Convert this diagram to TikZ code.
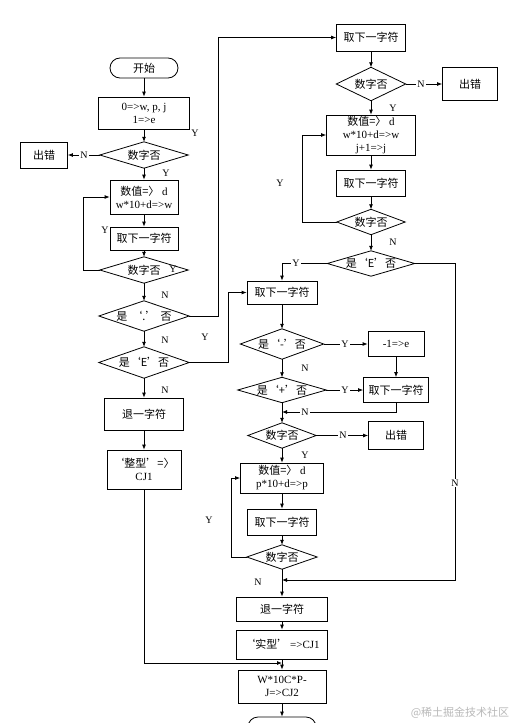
\documentclass[tikz,border=0pt]{standalone}
\usepackage{fontspec}
\setmainfont{Liberation Serif}
\newfontfamily\cjk{Noto Sans CJK SC}
\usetikzlibrary{arrows.meta}
\tikzset{
  box/.style={draw, line width=0.8pt, rectangle, inner sep=0pt, align=center, font=\fontsize{11}{13}\selectfont},
  term/.style={box, rounded corners=10pt},
  dnode/.style={inner sep=0pt, align=center, font=\fontsize{11}{13}\selectfont},
  line/.style={line width=0.8pt},
  arr/.style={line width=0.8pt, -{Latex[length=5pt,width=4pt]}},
  lab/.style={font=\fontsize{10}{12}\selectfont, inner sep=1pt},
  labw/.style={lab, fill=white},
}
\newcommand\dmd[5]{%
  \node[dnode, minimum width=#3, minimum height=#4] (#1) at (#2) {#5};
  \draw[line] (#1.west)--(#1.north)--(#1.east)--(#1.south)--cycle;}
\begin{document}
\begin{tikzpicture}[x=1pt,y=-1pt]
\fill[white] (0,0) rectangle (512,723);
\useasboundingbox (0,0) rectangle (512,723);
% ---------- left column ----------
\node[term, minimum width=68pt, minimum height=20pt] (start) at (144,68) {\cjk 开始};
\node[box, minimum width=91pt, minimum height=32pt] (b1) at (144,113) {0=>w, p, j\\1=>e};
\dmd{d1}{144,155}{88pt}{26pt}{\cjk 数字否}
\node[box, minimum width=47pt, minimum height=26pt] (e1) at (44,155) {\cjk 出错};
\node[box, minimum width=68pt, minimum height=34pt] (b2) at (144,197) {{\cjk 数值=〉} d\\w*10+d=>w};
\node[box, minimum width=68pt, minimum height=23pt] (b3) at (144,238.5) {\cjk 取下一字符};
\dmd{d2}{144,270}{88pt}{26pt}{\cjk 数字否}
\dmd{d3}{144,316}{90pt}{30pt}{\cjk 是\hspace{4pt}‘.’\hspace{4pt}否}
\dmd{d4}{144,362.5}{90pt}{31pt}{\cjk 是‘E’否}
\node[box, minimum width=79pt, minimum height=32pt] (b4) at (144,414) {\cjk 退一字符};
\node[box, minimum width=74pt, minimum height=39pt] (b5) at (144,469.5) {{\cjk ‘整型’=〉}\\CJ1};
% ---------- right upper ----------
\node[box, minimum width=69pt, minimum height=27pt] (rb1) at (371,37.5) {\cjk 取下一字符};
\dmd{rd1}{371,84}{69pt}{33pt}{\cjk 数字否}
\node[box, minimum width=55pt, minimum height=33pt] (e2) at (470,84) {\cjk 出错};
\node[box, minimum width=89pt, minimum height=40pt] (rb2) at (371,135) {{\cjk 数值=〉} d\\w*10+d=>w\\j+1=>j};
\node[box, minimum width=69pt, minimum height=26pt] (rb3) at (371,183) {\cjk 取下一字符};
\dmd{rd2}{371,222}{68pt}{25pt}{\cjk 数字否}
\dmd{rd3}{371,263.5}{87pt}{25pt}{\cjk 是‘E’否}
% ---------- right lower ----------
\node[box, minimum width=70pt, minimum height=23pt] (rb5) at (282,292.5) {\cjk 取下一字符};
\dmd{rd4}{282,344}{83pt}{30pt}{\cjk 是‘-’否}
\node[box, minimum width=56pt, minimum height=25pt] (rb6) at (396,344) {-1=>e};
\dmd{rd5}{282,390}{88pt}{25pt}{\cjk 是‘+’否}
\node[box, minimum width=65pt, minimum height=25pt] (rb7) at (396,390) {\cjk 取下一字符};
\dmd{rd6}{282,435.5}{68pt}{25pt}{\cjk 数字否}
\node[box, minimum width=55pt, minimum height=28pt] (e3) at (396,435.5) {\cjk 出错};
\node[box, minimum width=83pt, minimum height=30pt] (rb8) at (282,478) {{\cjk 数值=〉} d\\p*10+d=>p};
\node[box, minimum width=69pt, minimum height=26pt] (rb9) at (282,522) {\cjk 取下一字符};
\dmd{rd7}{282,557}{70pt}{24pt}{\cjk 数字否}
\node[box, minimum width=91pt, minimum height=24pt] (rb10) at (282,609) {\cjk 退一字符};
\node[box, minimum width=91pt, minimum height=29pt] (rb11) at (282,644.5) {{\cjk ‘实型’}\,=>CJ1};
\node[box, minimum width=88pt, minimum height=33pt] (rb12) at (282,686.5) {W*10C*P-\\J=>CJ2};
\node[term, minimum width=68pt, minimum height=20pt] (stop) at (282,727) {};
% ---------- coordinates ----------
\coordinate (m1) at (282,412);
\coordinate (m2) at (282,580);
\coordinate (m3) at (282,663);
\coordinate (c1) at (455,580);
% ---------- connectors left ----------
\draw[arr] (start.south) -- (b1.north);
\draw[arr] (b1.south) -- (d1.north);
\draw[arr] (d1.west) -- (e1.east);
\draw[arr] (d1.south) -- (b2.north);
\draw[arr] (b2.south) -- (b3.north);
\draw[arr] (b3.south) -- (d2.north);
\draw[arr] (d2.west) -- (83,270) |- (b2.west);
\draw[arr] (d2.south) -- (d3.north);
\draw[arr] (d3.east) -- (218,316) |- (rb1.west);
\draw[arr] (d3.south) -- (d4.north);
\draw[arr] (d4.east) -- (228,362.5) |- (rb5.west);
\draw[arr] (d4.south) -- (b4.north);
\draw[arr] (b4.south) -- (b5.north);
\draw[arr] (b5.south) |- (m3);
% ---------- connectors right upper ----------
\draw[arr] (rb1.south) -- (rd1.north);
\draw[arr] (rd1.east) -- (e2.west);
\draw[arr] (rd1.south) -- (rb2.north);
\draw[arr] (rb2.south) -- (rb3.north);
\draw[arr] (rb3.south) -- (rd2.north);
\draw[arr] (rd2.west) -- (302,222) |- (rb2.west);
\draw[arr] (rd2.south) -- (rd3.north);
\draw[arr] (rd3.west) -| (rb5.north);
\draw[arr] (rd3.east) -| (c1) -- (m2);
% ---------- connectors right lower ----------
\draw[arr] (rb5.south) -- (rd4.north);
\draw[arr] (rd4.east) -- (rb6.west);
\draw[arr] (rd4.south) -- (rd5.north);
\draw[arr] (rd5.east) -- (rb7.west);
\draw[arr] (rb6.south) -- (rb7.north);
\draw[arr] (rb7.south) |- (m1);
\draw[arr] (rd5.south) -- (rd6.north);
\draw[arr] (rd6.east) -- (e3.west);
\draw[arr] (rd6.south) -- (rb8.north);
\draw[arr] (rb8.south) -- (rb9.north);
\draw[arr] (rb9.south) -- (rd7.north);
\draw[arr] (rd7.west) -- (231,557) |- (rb8.west);
\draw[arr] (rd7.south) -- (rb10.north);
\draw[arr] (rb10.south) -- (rb11.north);
\draw[arr] (rb11.south) -- (rb12.north);
\draw[arr] (rb12.south) -- (stop.north);
% ---------- labels ----------
\node[lab] (l1) at (195,133) {Y};
\node[labw] (l2) at (84,155) {N};
\node[lab] (l3) at (166,173) {Y};
\node[lab] (l4) at (105,230) {Y};
\node[lab] (l5) at (173,269) {Y};
\node[lab] (l6) at (165,295) {N};
\node[lab] (l7) at (165,340) {N};
\node[lab] (l8) at (205,337) {Y};
\node[lab] (l9) at (165,390) {N};
\node[labw] (l10) at (421,84) {N};
\node[lab] (l11) at (393,108) {Y};
\node[lab] (l12) at (280,183) {Y};
\node[lab] (l13) at (393,242) {N};
\node[labw] (l14) at (296,263.5) {Y};
\node[labw] (l15) at (455,483) {N};
\node[labw] (l16) at (345,344) {Y};
\node[lab] (l17) at (305,368) {N};
\node[labw] (l18) at (345,390) {Y};
\node[labw] (l19) at (305,412) {N};
\node[labw] (l20) at (343,435.5) {N};
\node[lab] (l21) at (305,455) {Y};
\node[lab] (l22) at (209,520) {Y};
\node[lab] (l23) at (258,582) {N};
\node[font=\fontsize{11}{13}\selectfont, text=gray!55] (wm) at (460,713) {\cjk @稀土掘金技术社区};
\end{tikzpicture}
\end{document}
